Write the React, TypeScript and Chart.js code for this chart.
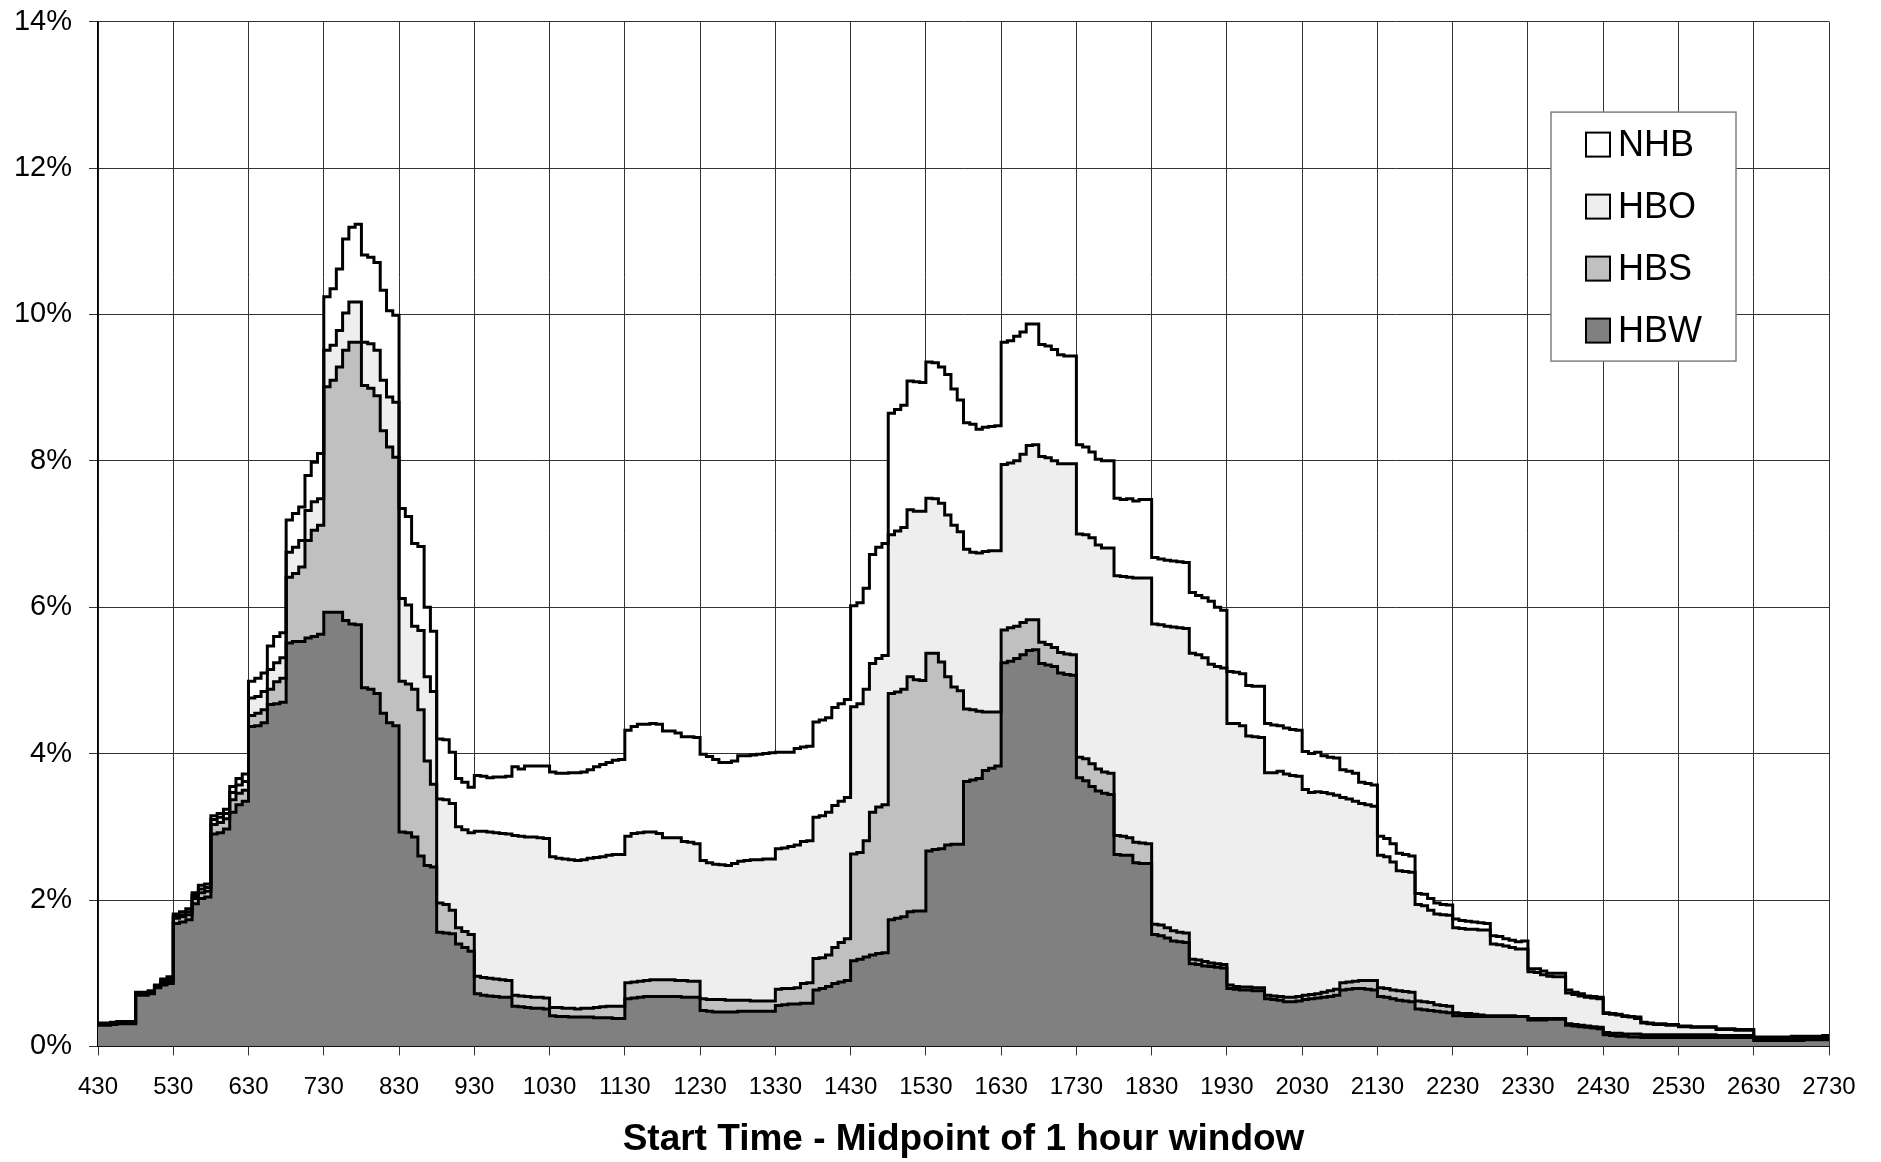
import React, { useEffect, useRef } from 'react';
import { Chart, registerables } from 'chart.js';

Chart.register(...registerables);

// x axis: hours after 4:30, one value every 5 minutes (12 per hour)
const STEPS_PER_HOUR = 12;
const xTickLabels = ['430', '530', '630', '730', '830', '930', '1030', '1130', '1230', '1330', '1430', '1530',
  '1630', '1730', '1830', '1930', '2030', '2130', '2230', '2330', '2430', '2530', '2630', '2730'];
const yTickValues = [0, 2, 4, 6, 8, 10, 12, 14];
const yTickLabels = ['0%', '2%', '4%', '6%', '8%', '10%', '12%', '14%'];
const axisTitle = 'Start Time - Midpoint of 1 hour window';

const seriesNames = ['HBW', 'HBS', 'HBO', 'NHB'];
const seriesColors = ['#808080', '#c0c0c0', '#eeeeee', '#ffffff'];

// Upper edge of each stacked band (cumulative share, %), one row per hour (430 .. 2630)
const hbwTop = [
  0.29, 0.29, 0.30, 0.31, 0.31, 0.31, 0.70, 0.70, 0.72, 0.80, 0.84, 0.86,
  1.68, 1.70, 1.73, 1.95, 2.02, 2.04, 2.90, 2.92, 2.97, 3.20, 3.30, 3.35,
  4.37, 4.38, 4.42, 4.67, 4.68, 4.70, 5.51, 5.53, 5.53, 5.58, 5.60, 5.63,
  5.93, 5.93, 5.93, 5.82, 5.77, 5.76, 4.90, 4.88, 4.82, 4.55, 4.42, 4.38,
  2.93, 2.92, 2.86, 2.60, 2.47, 2.45, 1.56, 1.55, 1.54, 1.40, 1.35, 1.30,
  0.72, 0.70, 0.69, 0.68, 0.67, 0.67, 0.55, 0.54, 0.53, 0.52, 0.52, 0.51,
  0.42, 0.41, 0.41, 0.40, 0.40, 0.40, 0.40, 0.39, 0.39, 0.39, 0.38, 0.38,
  0.65, 0.66, 0.67, 0.68, 0.68, 0.68, 0.68, 0.68, 0.68, 0.67, 0.67, 0.67,
  0.49, 0.48, 0.47, 0.47, 0.47, 0.47, 0.48, 0.48, 0.48, 0.48, 0.48, 0.48,
  0.56, 0.57, 0.58, 0.58, 0.59, 0.59, 0.77, 0.79, 0.82, 0.86, 0.88, 0.90,
  1.17, 1.19, 1.22, 1.25, 1.27, 1.28, 1.73, 1.75, 1.77, 1.84, 1.85, 1.85,
  2.67, 2.69, 2.70, 2.75, 2.76, 2.76, 3.62, 3.64, 3.66, 3.77, 3.80, 3.83,
  5.24, 5.26, 5.30, 5.35, 5.41, 5.42, 5.23, 5.21, 5.19, 5.10, 5.08, 5.07,
  3.67, 3.63, 3.55, 3.49, 3.46, 3.44, 2.62, 2.61, 2.61, 2.51, 2.50, 2.50,
  1.53, 1.51, 1.48, 1.44, 1.43, 1.42, 1.13, 1.12, 1.10, 1.09, 1.08, 1.07,
  0.79, 0.78, 0.77, 0.77, 0.76, 0.76, 0.65, 0.64, 0.63, 0.61, 0.61, 0.62,
  0.64, 0.65, 0.66, 0.67, 0.68, 0.70, 0.77, 0.78, 0.79, 0.79, 0.78, 0.77,
  0.68, 0.67, 0.65, 0.63, 0.62, 0.61, 0.51, 0.50, 0.49, 0.48, 0.47, 0.46,
  0.42, 0.42, 0.41, 0.41, 0.41, 0.41, 0.41, 0.41, 0.41, 0.41, 0.41, 0.41,
  0.36, 0.36, 0.36, 0.37, 0.37, 0.37, 0.29, 0.28, 0.27, 0.26, 0.25, 0.24,
  0.16, 0.15, 0.14, 0.14, 0.13, 0.13, 0.12, 0.12, 0.12, 0.12, 0.12, 0.12,
  0.12, 0.12, 0.12, 0.12, 0.12, 0.12, 0.12, 0.12, 0.12, 0.12, 0.12, 0.12,
  0.08, 0.08, 0.08, 0.08, 0.08, 0.08, 0.08, 0.08, 0.09, 0.09, 0.09, 0.09,
];

const hbsTop = [
  0.30, 0.30, 0.31, 0.32, 0.32, 0.32, 0.71, 0.71, 0.73, 0.82, 0.87, 0.89,
  1.75, 1.77, 1.80, 2.02, 2.10, 2.12, 3.03, 3.06, 3.11, 3.37, 3.46, 3.50,
  4.52, 4.55, 4.60, 4.88, 4.98, 5.03, 6.41, 6.46, 6.55, 6.91, 7.05, 7.12,
  9.01, 9.10, 9.28, 9.51, 9.62, 9.62, 9.03, 8.99, 8.89, 8.41, 8.19, 8.05,
  4.99, 4.95, 4.88, 4.60, 3.90, 3.58, 1.96, 1.94, 1.86, 1.62, 1.57, 1.53,
  0.96, 0.94, 0.93, 0.92, 0.91, 0.90, 0.70, 0.69, 0.68, 0.67, 0.67, 0.66,
  0.53, 0.53, 0.52, 0.52, 0.51, 0.52, 0.52, 0.53, 0.54, 0.55, 0.55, 0.55,
  0.87, 0.88, 0.89, 0.90, 0.91, 0.91, 0.91, 0.91, 0.90, 0.90, 0.89, 0.89,
  0.65, 0.64, 0.64, 0.64, 0.63, 0.63, 0.63, 0.63, 0.62, 0.62, 0.62, 0.62,
  0.78, 0.79, 0.79, 0.80, 0.86, 0.87, 1.20, 1.21, 1.25, 1.35, 1.42, 1.47,
  2.63, 2.65, 2.81, 3.20, 3.27, 3.30, 4.82, 4.84, 4.88, 5.05, 5.01, 5.00,
  5.37, 5.37, 5.25, 5.05, 4.91, 4.86, 4.61, 4.60, 4.58, 4.57, 4.57, 4.57,
  5.69, 5.72, 5.74, 5.79, 5.83, 5.83, 5.52, 5.49, 5.45, 5.38, 5.36, 5.35,
  3.95, 3.93, 3.86, 3.79, 3.75, 3.73, 2.88, 2.87, 2.85, 2.79, 2.78, 2.77,
  1.67, 1.66, 1.62, 1.58, 1.56, 1.55, 1.19, 1.18, 1.16, 1.14, 1.13, 1.12,
  0.84, 0.82, 0.81, 0.81, 0.80, 0.80, 0.70, 0.69, 0.68, 0.67, 0.67, 0.68,
  0.70, 0.71, 0.72, 0.74, 0.76, 0.78, 0.87, 0.88, 0.89, 0.90, 0.90, 0.90,
  0.80, 0.79, 0.77, 0.76, 0.75, 0.74, 0.62, 0.61, 0.60, 0.57, 0.56, 0.55,
  0.46, 0.45, 0.45, 0.44, 0.43, 0.42, 0.42, 0.42, 0.42, 0.42, 0.41, 0.41,
  0.38, 0.38, 0.38, 0.38, 0.38, 0.38, 0.31, 0.30, 0.29, 0.28, 0.27, 0.26,
  0.19, 0.18, 0.18, 0.17, 0.17, 0.17, 0.16, 0.16, 0.16, 0.16, 0.16, 0.16,
  0.16, 0.16, 0.16, 0.16, 0.16, 0.16, 0.15, 0.15, 0.15, 0.15, 0.15, 0.15,
  0.11, 0.11, 0.11, 0.11, 0.11, 0.11, 0.11, 0.11, 0.11, 0.11, 0.11, 0.11,
];

const hboTop = [
  0.31, 0.31, 0.32, 0.33, 0.33, 0.33, 0.73, 0.73, 0.75, 0.83, 0.90, 0.92,
  1.78, 1.80, 1.84, 2.06, 2.15, 2.17, 3.10, 3.13, 3.18, 3.47, 3.57, 3.62,
  4.76, 4.78, 4.85, 5.15, 5.24, 5.31, 6.75, 6.82, 6.91, 7.32, 7.44, 7.48,
  9.51, 9.58, 9.78, 10.02, 10.17, 10.17, 9.62, 9.60, 9.51, 9.10, 8.87, 8.80,
  6.12, 6.03, 5.74, 5.68, 5.05, 4.85, 3.38, 3.37, 3.32, 3.00, 2.96, 2.92,
  2.94, 2.94, 2.93, 2.92, 2.91, 2.90, 2.88, 2.87, 2.86, 2.86, 2.85, 2.84,
  2.59, 2.57, 2.56, 2.55, 2.54, 2.55, 2.57, 2.58, 2.59, 2.61, 2.62, 2.62,
  2.87, 2.91, 2.92, 2.93, 2.93, 2.91, 2.85, 2.85, 2.85, 2.80, 2.79, 2.77,
  2.54, 2.51, 2.49, 2.48, 2.47, 2.50, 2.53, 2.54, 2.55, 2.55, 2.56, 2.56,
  2.70, 2.71, 2.73, 2.75, 2.80, 2.81, 3.13, 3.15, 3.20, 3.29, 3.35, 3.40,
  4.64, 4.68, 4.88, 5.23, 5.30, 5.34, 6.99, 7.04, 7.09, 7.33, 7.31, 7.31,
  7.49, 7.48, 7.42, 7.26, 7.12, 7.03, 6.79, 6.75, 6.74, 6.76, 6.77, 6.77,
  7.95, 7.97, 8.00, 8.09, 8.21, 8.22, 8.06, 8.04, 8.00, 7.96, 7.96, 7.96,
  7.00, 6.99, 6.95, 6.85, 6.81, 6.81, 6.43, 6.42, 6.41, 6.40, 6.40, 6.40,
  5.77, 5.76, 5.74, 5.73, 5.72, 5.71, 5.37, 5.35, 5.31, 5.22, 5.19, 5.17,
  4.41, 4.41, 4.38, 4.24, 4.23, 4.22, 3.74, 3.74, 3.76, 3.72, 3.70, 3.69,
  3.51, 3.47, 3.48, 3.47, 3.45, 3.43, 3.40, 3.38, 3.35, 3.32, 3.30, 3.28,
  2.61, 2.59, 2.52, 2.40, 2.39, 2.38, 1.94, 1.92, 1.86, 1.81, 1.80, 1.79,
  1.62, 1.61, 1.60, 1.60, 1.59, 1.59, 1.40, 1.39, 1.37, 1.35, 1.33, 1.33,
  1.02, 1.01, 0.98, 0.96, 0.95, 0.95, 0.73, 0.71, 0.69, 0.67, 0.66, 0.65,
  0.45, 0.44, 0.43, 0.41, 0.40, 0.38, 0.32, 0.31, 0.30, 0.30, 0.29, 0.29,
  0.27, 0.27, 0.26, 0.26, 0.26, 0.26, 0.23, 0.23, 0.23, 0.22, 0.22, 0.22,
  0.12, 0.12, 0.12, 0.12, 0.12, 0.12, 0.13, 0.13, 0.13, 0.13, 0.13, 0.14,
];

const nhbTop = [
  0.32, 0.32, 0.33, 0.34, 0.34, 0.34, 0.74, 0.74, 0.76, 0.84, 0.92, 0.95,
  1.81, 1.84, 1.88, 2.10, 2.20, 2.22, 3.15, 3.18, 3.24, 3.55, 3.66, 3.72,
  4.99, 5.03, 5.10, 5.47, 5.60, 5.65, 7.19, 7.28, 7.37, 7.80, 7.98, 8.10,
  10.24, 10.35, 10.62, 11.03, 11.19, 11.23, 10.81, 10.78, 10.71, 10.33, 10.05, 9.99,
  7.35, 7.24, 6.87, 6.83, 6.00, 5.67, 4.20, 4.19, 4.02, 3.66, 3.61, 3.54,
  3.70, 3.69, 3.67, 3.68, 3.68, 3.69, 3.82, 3.79, 3.83, 3.83, 3.83, 3.83,
  3.75, 3.73, 3.73, 3.74, 3.74, 3.75, 3.78, 3.82, 3.85, 3.88, 3.91, 3.92,
  4.32, 4.37, 4.40, 4.40, 4.41, 4.40, 4.31, 4.31, 4.28, 4.23, 4.23, 4.22,
  3.99, 3.96, 3.92, 3.88, 3.88, 3.90, 3.97, 3.97, 3.98, 3.99, 4.00, 4.01,
  4.02, 4.02, 4.02, 4.07, 4.09, 4.10, 4.43, 4.46, 4.49, 4.63, 4.68, 4.74,
  6.02, 6.06, 6.26, 6.72, 6.82, 6.87, 8.65, 8.70, 8.76, 9.09, 9.08, 9.07,
  9.35, 9.34, 9.28, 9.18, 8.98, 8.83, 8.52, 8.50, 8.43, 8.46, 8.47, 8.48,
  9.62, 9.64, 9.70, 9.76, 9.87, 9.87, 9.59, 9.57, 9.52, 9.45, 9.43, 9.43,
  8.22, 8.19, 8.12, 8.02, 8.00, 8.00, 7.49, 7.47, 7.48, 7.45, 7.47, 7.47,
  6.68, 6.66, 6.64, 6.63, 6.62, 6.61, 6.20, 6.16, 6.13, 6.08, 6.00, 5.96,
  5.12, 5.11, 5.09, 4.93, 4.92, 4.92, 4.41, 4.39, 4.38, 4.35, 4.33, 4.32,
  4.03, 4.00, 4.02, 3.97, 3.95, 3.94, 3.78, 3.76, 3.73, 3.61, 3.59, 3.57,
  2.87, 2.84, 2.77, 2.64, 2.62, 2.60, 2.09, 2.08, 2.02, 1.96, 1.94, 1.93,
  1.74, 1.72, 1.71, 1.70, 1.69, 1.68, 1.51, 1.50, 1.47, 1.45, 1.43, 1.44,
  1.06, 1.06, 1.03, 1.00, 1.00, 1.00, 0.77, 0.74, 0.72, 0.69, 0.68, 0.67,
  0.46, 0.45, 0.44, 0.42, 0.41, 0.40, 0.33, 0.32, 0.31, 0.31, 0.30, 0.30,
  0.28, 0.28, 0.27, 0.27, 0.27, 0.27, 0.24, 0.24, 0.24, 0.23, 0.23, 0.23,
  0.13, 0.13, 0.13, 0.13, 0.13, 0.13, 0.14, 0.14, 0.14, 0.14, 0.14, 0.15,
];

const seriesTops = [hbwTop, hbsTop, hboTop, nhbTop];

const FONT = '"Liberation Sans", Arial, Helvetica, sans-serif';

const legendPlugin = {
  id: 'insideLegend',
  afterDraw(chart: any) {
    const { ctx, chartArea } = chart;
    const bx = chartArea.right - 278;
    const by = chartArea.top + 90.5;
    const bw = 185;
    const bh = 249;
    ctx.save();
    ctx.fillStyle = '#ffffff';
    ctx.fillRect(bx, by, bw, bh);
    ctx.strokeStyle = '#808080';
    ctx.lineWidth = 1.5;
    ctx.strokeRect(bx, by, bw, bh);
    const items = [...chart.data.datasets].reverse();
    items.forEach((ds: any, i: number) => {
      const cy = by + 32.5 + i * 62;
      ctx.fillStyle = ds.backgroundColor;
      ctx.fillRect(bx + 35, cy - 12, 24, 24);
      ctx.strokeStyle = '#000000';
      ctx.lineWidth = 2;
      ctx.strokeRect(bx + 35, cy - 12, 24, 24);
      ctx.fillStyle = '#000000';
      ctx.font = `36px ${FONT}`;
      ctx.textBaseline = 'middle';
      ctx.textAlign = 'left';
      ctx.fillText(ds.label, bx + 67, cy + 1);
    });
    ctx.restore();
  },
};

export default function App() {
  const canvasRef = useRef<HTMLCanvasElement | null>(null);

  useEffect(() => {
    const canvas = canvasRef.current;
    if (!canvas) return;
    const toPoints = (arr: number[]) => [
      ...arr.map((v, i) => ({ x: i / STEPS_PER_HOUR, y: v })),
      { x: arr.length / STEPS_PER_HOUR, y: arr[arr.length - 1] },
    ];
    const datasets = seriesNames.map((name, i) => ({
      label: name,
      data: toPoints(seriesTops[i]),
      stepped: true,
      borderColor: '#000000',
      borderWidth: 3,
      backgroundColor: seriesColors[i],
      fill: i === 0 ? 'origin' : '-1',
      pointRadius: 0,
      pointHoverRadius: 0,
      tension: 0,
    }));

    const chart = new Chart(canvas, {
      type: 'line',
      data: { datasets } as any,
      options: {
        animation: false,
        responsive: false,
        devicePixelRatio: 1,
        events: [],
        layout: { padding: { left: 0, top: 21.6, right: 52, bottom: 0 } },
        plugins: {
          legend: { display: false },
          tooltip: { enabled: false },
          filler: { drawTime: 'beforeDatasetsDraw' },
        } as any,
        scales: {
          x: {
            type: 'linear',
            min: 0,
            max: xTickLabels.length - 1,
            afterFit: (s: any) => { s.height = 115.6; s.paddingLeft = 0; s.paddingRight = 0; },
            afterBuildTicks: (s: any) => { s.ticks = xTickLabels.map((_, i) => ({ value: i })); },
            ticks: {
              autoSkip: false,
              maxRotation: 0,
              minRotation: 0,
              padding: 18,
              color: '#000000',
              font: { family: FONT, size: 24 },
              callback: (v: any) => xTickLabels[Math.round(Number(v))] ?? '',
            },
            grid: { color: '#333333', lineWidth: 1, tickLength: 9, drawTicks: true },
            border: { color: '#000000', width: 1 },
            title: {
              display: true,
              text: axisTitle,
              color: '#000000',
              font: { family: FONT, size: 37, weight: 'bold' },
              padding: { top: 0, bottom: 0 },
            },
          },
          y: {
            type: 'linear',
            min: yTickValues[0],
            max: yTickValues[yTickValues.length - 1],
            afterFit: (s: any) => { s.width = 98; s.paddingTop = 0; s.paddingBottom = 0; },
            afterBuildTicks: (s: any) => { s.ticks = yTickValues.map((v) => ({ value: v })); },
            ticks: {
              padding: 17,
              color: '#000000',
              font: { family: FONT, size: 29 },
              callback: (v: any) => yTickLabels[yTickValues.indexOf(Number(v))] ?? '',
            },
            grid: { color: '#333333', lineWidth: 1, tickLength: 9, drawTicks: true },
            border: { color: '#000000', width: 1.5 },
          },
        },
      } as any,
      plugins: [legendPlugin],
    });
    return () => chart.destroy();
  }, []);

  return (
    <div style={{ position: 'fixed', left: 0, top: 0, width: 1881, height: 1162, background: '#ffffff' }}>
      <canvas ref={canvasRef} width={1881} height={1162} style={{ width: 1881, height: 1162, display: 'block' }} />
    </div>
  );
}
